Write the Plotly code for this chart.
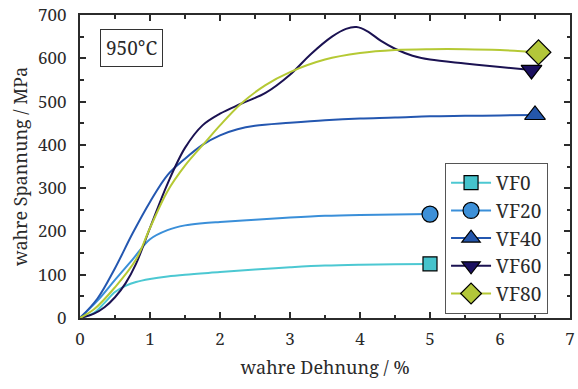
import plotly.graph_objects as go

# True stress-strain curves at 950 °C for different volume fractions
strain_vf0 = [0, 0.2, 0.35, 0.5, 0.65, 0.8, 1.0, 1.25, 1.5, 2.0, 2.5, 3.0, 3.5, 4.0, 4.5, 5.0]
stress_vf0 = [0, 12, 35, 60, 74, 83, 90, 96, 100, 106, 112, 117, 121, 123, 124, 125]

strain_vf20 = [0, 0.25, 0.5, 0.75, 1.0, 1.25, 1.5, 1.75, 2.0, 2.5, 3.0, 3.5, 4.0, 4.5, 5.0]
stress_vf20 = [0, 40, 88, 135, 182, 203, 214, 219, 222, 227, 232, 236, 238, 239, 240]

strain_vf40 = [0, 0.25, 0.5, 0.75, 1.0, 1.25, 1.5, 1.75, 2.0, 2.25, 2.5, 3.0, 3.5, 4.0, 4.5, 5.0, 5.5, 6.0, 6.5]
stress_vf40 = [0, 45, 115, 195, 268, 330, 368, 400, 422, 436, 444, 451, 457, 461, 463, 466, 467, 468, 469]

strain_vf60 = [0, 0.2, 0.35, 0.5, 0.65, 0.8, 1.0, 1.25, 1.5, 1.75, 2.0, 2.3, 2.65, 3.0, 3.3, 3.6, 3.8, 3.95,
               4.1, 4.3, 4.5, 4.75, 5.0, 5.5, 6.0, 6.45]
stress_vf60 = [0, 10, 25, 48, 80, 125, 208, 310, 393, 445, 472, 495, 520, 562, 610, 650, 668, 672,
               663, 640, 622, 606, 597, 588, 580, 573]

strain_vf80 = [0, 0.2, 0.5, 0.8, 1.0, 1.25, 1.5, 1.8, 2.0, 2.3, 2.65, 3.0, 3.5, 4.0, 4.5, 5.0, 5.5, 6.0, 6.55]
stress_vf80 = [0, 20, 71, 135, 208, 293, 352, 408, 445, 495, 538, 568, 597, 612, 619, 621, 621, 619, 614]

series_names = ["VF0", "VF20", "VF40", "VF60", "VF80"]
line_colors = ["#4cc8d2", "#3a8fd9", "#2457b0", "#1b1252", "#b5c934"]
marker_colors = ["#45c3cc", "#3d90d8", "#2456ab", "#1b1060", "#b3c73a"]
marker_symbols = ["square", "circle", "triangle-up", "triangle-down", "diamond"]
marker_sizes = [14, 16, 18, 18, 19]

x_ticks = [0, 1, 2, 3, 4, 5, 6, 7]
y_ticks = [0, 100, 200, 300, 400, 500, 600, 700]

strains = [strain_vf0, strain_vf20, strain_vf40, strain_vf60, strain_vf80]
stresses = [stress_vf0, stress_vf20, stress_vf40, stress_vf60, stress_vf80]

FONT = "Noto Serif"
TEXT = "#2a2a2a"
fig = go.Figure()

for name, xs, ys, lc, mc, sym, ms in zip(series_names, strains, stresses, line_colors,
                                          marker_colors, marker_symbols, marker_sizes):
    # curve
    fig.add_trace(go.Scatter(x=xs, y=ys, mode="lines", line=dict(color=lc, width=2, shape="spline", smoothing=1.0),
                             showlegend=False, legendgroup=name, hoverinfo="skip"))
    # end-point marker
    fig.add_trace(go.Scatter(x=[xs[-1]], y=[ys[-1]], mode="markers",
                             marker=dict(symbol=sym, size=ms, color=mc, line=dict(color="black", width=1.2)),
                             showlegend=False, legendgroup=name))
    # legend entry (line with marker)
    fig.add_trace(go.Scatter(x=[None], y=[None], mode="lines+markers", name=name, legendgroup=name,
                             line=dict(color=lc, width=2),
                             marker=dict(symbol=sym, size=ms, color=mc, line=dict(color="black", width=1.2))))

axis_common = dict(
    showline=True, linecolor="#2b2b2b", linewidth=2, mirror="ticks",
    ticks="inside", ticklen=6, tickwidth=1.5, tickcolor="#2b2b2b",
    showgrid=False, zeroline=False,
    tickfont=dict(family=FONT, size=17, color=TEXT),
)

fig.update_xaxes(range=[0, 7], tickvals=x_ticks, ticklabelstandoff=5,
                 minor=dict(ticks="inside", ticklen=3.5, tickwidth=1.5, tickcolor="#2b2b2b", dtick=0.5),
                 title=dict(text="wahre Dehnung / %", font=dict(family=FONT, size=18, color=TEXT), standoff=12),
                 **axis_common)
fig.update_yaxes(range=[0, 700], tickvals=y_ticks, ticklabelstandoff=8,
                 minor=dict(ticks="inside", ticklen=3.5, tickwidth=1.5, tickcolor="#2b2b2b", dtick=50),
                 title=dict(text="wahre Spannung / MPa", font=dict(family=FONT, size=18, color=TEXT), standoff=6),
                 **axis_common)

fig.add_annotation(x=0.04, y=0.955, xref="paper", yref="paper", xanchor="left", yanchor="top",
                   text="950°C", showarrow=False, font=dict(family=FONT, size=19, color=TEXT),
                   bordercolor="#333", borderwidth=1, borderpad=5, bgcolor="white")

fig.update_layout(
    width=578, height=389,
    margin=dict(l=80, r=3, t=13, b=71),
    paper_bgcolor="white", plot_bgcolor="white",
    font=dict(family=FONT, color=TEXT),
    legend=dict(x=0.745, y=0.512, xanchor="left", yanchor="top",
                bordercolor="#555", borderwidth=1, bgcolor="white",
                font=dict(family=FONT, size=19, color=TEXT),
                tracegroupgap=0, itemwidth=40),
    showlegend=True,
)

fig.write_html("out.html")
